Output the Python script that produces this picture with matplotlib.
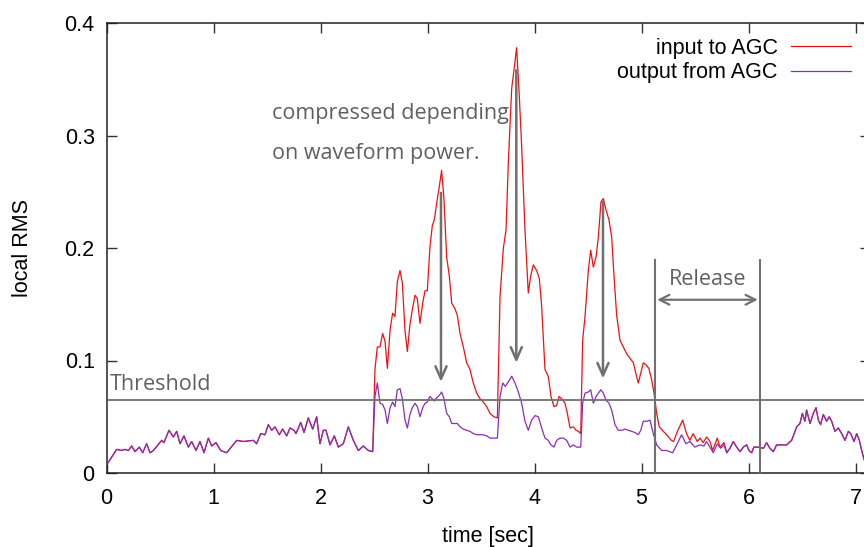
import numpy as np
import matplotlib
matplotlib.use('Agg')
import matplotlib.pyplot as plt

# quiet part, input and output are the same here
t_quiet = [0.0, 0.095, 0.142, 0.173, 0.204, 0.235, 0.266, 0.307, 0.338, 0.375,
           0.407, 0.438, 0.516, 0.537, 0.584, 0.625, 0.656, 0.687, 0.724, 0.765,
           0.796, 0.836, 0.874, 0.911, 0.952, 0.983, 1.023, 1.067, 1.123, 1.217,
           1.279, 1.372, 1.403, 1.441, 1.481, 1.512, 1.544, 1.575, 1.615, 1.646,
           1.684, 1.715, 1.752, 1.771, 1.815, 1.846, 1.886, 1.927, 1.964, 1.995,
           2.026, 2.051, 2.089, 2.129, 2.167, 2.213, 2.260, 2.307, 2.354, 2.400,
           2.447, 2.488]
rms_quiet = [0.007, 0.021, 0.020, 0.021, 0.020, 0.024, 0.019, 0.023, 0.018, 0.026,
             0.018, 0.020, 0.029, 0.027, 0.038, 0.032, 0.037, 0.026, 0.033, 0.023,
             0.028, 0.020, 0.028, 0.018, 0.031, 0.024, 0.027, 0.020, 0.018, 0.029,
             0.028, 0.029, 0.026, 0.035, 0.034, 0.043, 0.038, 0.041, 0.034, 0.039,
             0.033, 0.040, 0.038, 0.035, 0.045, 0.036, 0.049, 0.039, 0.050, 0.026,
             0.038, 0.038, 0.025, 0.033, 0.023, 0.026, 0.041, 0.029, 0.020, 0.024,
             0.020, 0.019]

# loud part, input to AGC
t_in_loud = [2.509, 2.531, 2.556, 2.581, 2.603, 2.625, 2.650, 2.674, 2.696, 2.718,
             2.743, 2.765, 2.790, 2.812, 2.836, 2.858, 2.883, 2.905, 2.930, 2.955,
             2.977, 2.998, 3.023, 3.045, 3.064, 3.086, 3.111, 3.132, 3.154, 3.179,
             3.204, 3.226, 3.257, 3.279, 3.304, 3.335, 3.366, 3.397, 3.428, 3.460,
             3.491, 3.522, 3.553, 3.584, 3.620, 3.653, 3.678, 3.709, 3.734, 3.755,
             3.787, 3.808, 3.833, 3.858, 3.880, 3.911, 3.942, 3.964, 3.989, 4.020,
             4.045, 4.067, 4.098, 4.129, 4.154, 4.182, 4.207, 4.229, 4.254, 4.285,
             4.307, 4.332, 4.363, 4.388, 4.410, 4.432, 4.450, 4.472, 4.503, 4.525,
             4.550, 4.575, 4.597, 4.621, 4.643, 4.668, 4.696, 4.721, 4.743, 4.768,
             4.799, 4.830, 4.861, 4.893, 4.924, 4.946, 4.970, 4.993, 5.017, 5.044,
             5.069, 5.095, 5.117, 5.142, 5.166, 5.204, 5.235, 5.280, 5.300, 5.340,
             5.385, 5.421, 5.452, 5.483, 5.521, 5.546, 5.577, 5.608, 5.640, 5.665,
             5.708, 5.733, 5.771]
rms_in_loud = [0.092, 0.112, 0.112, 0.124, 0.117, 0.093, 0.127, 0.142, 0.139, 0.170,
               0.180, 0.169, 0.126, 0.108, 0.132, 0.145, 0.158, 0.155, 0.133, 0.151,
               0.162, 0.162, 0.201, 0.220, 0.225, 0.240, 0.255, 0.269, 0.243, 0.192,
               0.175, 0.151, 0.146, 0.140, 0.124, 0.112, 0.098, 0.092, 0.080, 0.071,
               0.066, 0.063, 0.059, 0.053, 0.050, 0.049, 0.157, 0.200, 0.216, 0.275,
               0.342, 0.358, 0.378, 0.335, 0.290, 0.216, 0.160, 0.175, 0.185, 0.180,
               0.173, 0.148, 0.092, 0.086, 0.068, 0.059, 0.060, 0.068, 0.066, 0.062,
               0.053, 0.040, 0.041, 0.038, 0.037, 0.035, 0.118, 0.139, 0.180, 0.198,
               0.183, 0.192, 0.210, 0.241, 0.244, 0.234, 0.225, 0.210, 0.175, 0.140,
               0.118, 0.112, 0.106, 0.102, 0.098, 0.089, 0.080, 0.089, 0.098, 0.096,
               0.093, 0.083, 0.071, 0.053, 0.041, 0.037, 0.034, 0.029, 0.028, 0.038,
               0.047, 0.035, 0.029, 0.035, 0.028, 0.031, 0.027, 0.032, 0.028, 0.020,
               0.031, 0.023, 0.027]

# loud part, output from AGC
t_out_loud = [2.509, 2.531, 2.556, 2.581, 2.603, 2.625, 2.650, 2.674, 2.696, 2.718,
              2.743, 2.765, 2.790, 2.812, 2.836, 2.858, 2.883, 2.905, 2.930, 2.955,
              2.977, 2.998, 3.023, 3.045, 3.064, 3.086, 3.111, 3.132, 3.154, 3.179,
              3.204, 3.226, 3.257, 3.279, 3.304, 3.335, 3.366, 3.397, 3.428, 3.460,
              3.491, 3.522, 3.553, 3.584, 3.620, 3.653, 3.678, 3.703, 3.727, 3.755,
              3.787, 3.818, 3.849, 3.880, 3.911, 3.942, 3.973, 4.005, 4.036, 4.067,
              4.098, 4.129, 4.154, 4.182, 4.207, 4.238, 4.270, 4.301, 4.332, 4.363,
              4.394, 4.432, 4.450, 4.472, 4.503, 4.525, 4.550, 4.575, 4.597, 4.621,
              4.643, 4.668, 4.696, 4.721, 4.752, 4.783, 4.815, 4.846, 4.877, 4.908,
              4.939, 4.970, 4.993, 5.017, 5.048, 5.079, 5.110, 5.142, 5.188, 5.235,
              5.291, 5.334, 5.375, 5.415, 5.452, 5.499, 5.546, 5.583, 5.608, 5.640,
              5.671, 5.708, 5.740, 5.771]
rms_out_loud = [0.068, 0.080, 0.062, 0.061, 0.056, 0.044, 0.058, 0.063, 0.059, 0.074,
                0.075, 0.066, 0.047, 0.040, 0.052, 0.058, 0.062, 0.059, 0.050, 0.058,
                0.062, 0.063, 0.068, 0.066, 0.064, 0.067, 0.069, 0.072, 0.066, 0.053,
                0.050, 0.044, 0.044, 0.044, 0.041, 0.039, 0.038, 0.037, 0.035, 0.034,
                0.034, 0.034, 0.033, 0.031, 0.031, 0.031, 0.068, 0.080, 0.077, 0.081,
                0.086, 0.080, 0.072, 0.062, 0.046, 0.038, 0.047, 0.051, 0.050, 0.040,
                0.031, 0.029, 0.025, 0.023, 0.029, 0.031, 0.031, 0.029, 0.023, 0.025,
                0.023, 0.023, 0.062, 0.071, 0.072, 0.074, 0.062, 0.068, 0.071, 0.074,
                0.071, 0.065, 0.062, 0.056, 0.043, 0.038, 0.038, 0.039, 0.038, 0.037,
                0.036, 0.034, 0.038, 0.046, 0.046, 0.047, 0.035, 0.025, 0.020, 0.020,
                0.018, 0.026, 0.034, 0.026, 0.028, 0.023, 0.025, 0.024, 0.028, 0.023,
                0.018, 0.026, 0.022, 0.025]

# tail, both lines back together
t_tail = [5.796, 5.827, 5.858, 5.889, 5.921, 5.952, 5.983, 6.004, 6.030, 6.050,
          6.090, 6.140, 6.169, 6.200, 6.232, 6.263, 6.310, 6.357, 6.403, 6.450,
          6.481, 6.503, 6.528, 6.543, 6.575, 6.606, 6.631, 6.653, 6.674, 6.699,
          6.731, 6.755, 6.777, 6.808, 6.840, 6.871, 6.902, 6.933, 6.955, 6.986,
          7.011, 7.036, 7.058, 7.080, 7.120]
rms_tail = [0.018, 0.022, 0.028, 0.023, 0.019, 0.023, 0.025, 0.020, 0.018, 0.023,
            0.023, 0.022, 0.027, 0.022, 0.019, 0.025, 0.025, 0.025, 0.029, 0.041,
            0.044, 0.053, 0.046, 0.056, 0.044, 0.053, 0.058, 0.047, 0.043, 0.052,
            0.046, 0.050, 0.046, 0.037, 0.040, 0.035, 0.029, 0.037, 0.035, 0.028,
            0.035, 0.029, 0.020, 0.012, 0.006]

threshold = 0.065
release_start, release_end = 5.126, 6.107
# (x, y_top, y_tip) of the "compressed" arrows
comp_arrows = [(3.126, 0.249, 0.081), (3.83, 0.358, 0.098), (4.64, 0.241, 0.084)]

t_in = np.concatenate([t_quiet, t_in_loud, t_tail])
rms_in = np.concatenate([rms_quiet, rms_in_loud, rms_tail])
t_out = np.concatenate([t_quiet, t_out_loud, t_tail])
rms_out = np.concatenate([rms_quiet, rms_out_loud, rms_tail])

W, H = 864, 547
fig = plt.figure(figsize=(W / 100, H / 100), dpi=100)
# right border of the plot sits just outside the picture
ax = fig.add_axes([106.5 / W, 74 / H, 763.5 / W, 450 / H])

sans = 'Liberation Sans'
note = 'Open Sans'
gray = '#707070'

ax.plot(t_in, rms_in, color='#ee1111', lw=0.9, label='input to AGC', zorder=3)
ax.plot(t_out, rms_out, color='#8b2db8', lw=0.9, label='output from AGC', zorder=4)

ax.set_xlim(0, 763.5 / 107)
ax.set_ylim(0, 0.4)
ax.set_xticks(range(0, 8))
ax.set_yticks([0, 0.1, 0.2, 0.3, 0.4])
ax.set_yticklabels(['0', '0.1', '0.2', '0.3', '0.4'])
ax.tick_params(direction='in', length=7, width=1, top=True, right=True,
               colors='#333333', labelcolor='black', labelsize=15.5)
ax.tick_params(axis='x', pad=11)
ax.tick_params(axis='y', pad=8.5)
for lab in ax.get_xticklabels() + ax.get_yticklabels():
    lab.set_family(sans)
for s in ax.spines.values():
    s.set_linewidth(1.1)
    s.set_color('#222222')

ax.set_xlabel('time [sec]', family=sans, fontsize=15.5, labelpad=12.3)
ax.set_ylabel('local RMS', family=sans, fontsize=15.5, labelpad=23)

# annotations
ax.axhline(threshold, color=gray, lw=1.3, zorder=5)
ax.text(0.03, threshold + 0.004, 'Threshold', family=note, fontsize=15.5,
        color='#606060', ha='left', va='bottom')
for xr in (release_start, release_end):
    ax.plot([xr, xr], [0, 0.189], color=gray, lw=1.5, zorder=5)
ax.annotate('', xy=(release_start + 0.02, 0.154), xytext=(release_end - 0.02, 0.154),
            arrowprops=dict(arrowstyle='<->,head_length=0.7,head_width=0.35',
                            color=gray, lw=1.6, shrinkA=0, shrinkB=0), zorder=5)
ax.text((release_start + release_end) / 2, 0.172, 'Release', family=note,
        fontsize=15.5, color='#606060', ha='center', va='center')
for xa, ytop, ytip in comp_arrows:
    ax.annotate('', xy=(xa, ytip), xytext=(xa, ytop),
                arrowprops=dict(arrowstyle='->,head_length=0.9,head_width=0.4',
                                color=gray, lw=1.8, shrinkA=0, shrinkB=0), zorder=5)
ax.text(1.547, 0.320, 'compressed depending', family=note, fontsize=15.5,
        color='#606060', ha='left', va='center')
ax.text(1.547, 0.284, 'on waveform power.', family=note, fontsize=15.5,
        color='#606060', ha='left', va='center')

leg = ax.legend(loc='upper right', bbox_to_anchor=(851 / W, 1 - 38 / H),
                bbox_transform=fig.transFigure, frameon=False, markerfirst=False,
                handlelength=2.8, handletextpad=0.6, labelspacing=0.15,
                borderpad=0, borderaxespad=0, prop={'family': sans, 'size': 15.5})

fig.savefig('out.png', dpi=100)
